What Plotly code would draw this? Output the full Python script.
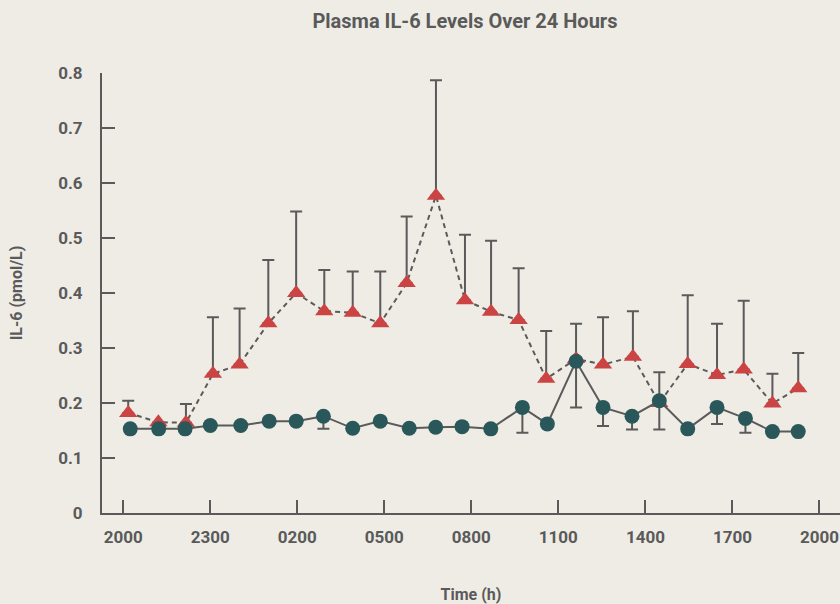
import plotly.graph_objects as go

# Time in hours after 20:00
red_t = [0.17, 1.21, 2.16, 3.09, 4.01, 5.0, 5.96, 6.93, 7.91, 8.86, 9.77, 10.78, 11.78,
         12.68, 13.63, 14.58, 15.61, 16.54, 17.57, 18.48, 19.46, 20.47, 21.39, 22.38, 23.27]
red_y = [0.182, 0.165, 0.164, 0.253, 0.27, 0.345, 0.40, 0.367, 0.364, 0.345, 0.418, 0.577, 0.387,
         0.366, 0.351, 0.244, 0.28, 0.27, 0.284, 0.20, 0.271, 0.251, 0.261, 0.199, 0.227]
red_err = [0.022, 0.0, 0.034, 0.103, 0.102, 0.115, 0.148, 0.075, 0.075, 0.094, 0.121, 0.21, 0.119,
           0.129, 0.094, 0.087, 0.064, 0.086, 0.083, 0.056, 0.125, 0.093, 0.125, 0.054, 0.064]

green_t = [0.24, 1.22, 2.13, 3.0, 4.05, 5.03, 5.96, 6.9, 7.91, 8.86, 9.86, 10.77, 11.68,
           12.67, 13.76, 14.62, 15.61, 16.54, 17.54, 18.48, 19.46, 20.47, 21.45, 22.38, 23.27]
green_y = [0.153, 0.153, 0.153, 0.159, 0.159, 0.167, 0.167, 0.176, 0.154, 0.167, 0.154, 0.156, 0.157,
           0.153, 0.192, 0.162, 0.276, 0.192, 0.176, 0.204, 0.153, 0.192, 0.172, 0.148, 0.148]
green_err = [0, 0, 0, 0, 0, 0, 0, 0.023, 0, 0, 0, 0, 0,
             0, 0.046, 0, 0.084, 0.034, 0.024, 0.052, 0, 0.030, 0.026, 0, 0]

tick_hours = [0, 3, 6, 9, 12, 15, 18, 21, 24]
tick_labels = ["2000", "2300", "0200", "0500", "0800", "1100", "1400", "1700", "2000"]
y_ticks = [0, 0.1, 0.2, 0.3, 0.4, 0.5, 0.6, 0.7, 0.8]
y_labels = ["0", "0.1", "0.2", "0.3", "0.4", "0.5", "0.6", "0.7", "0.8"]

GRAY = "#5a5a5a"
BG = "#efece6"
RED = "#cc4343"
TEAL = "#2a5759"
FONT = "Roboto"

fig = go.Figure()
fig.add_trace(go.Scatter(
    x=red_t, y=red_y, mode="lines+markers",
    line=dict(color=GRAY, width=2, dash="5px,4px"),
    marker=dict(symbol="triangle-up", size=16, color=RED),
    error_y=dict(type="data", symmetric=False, array=red_err, arrayminus=[0] * len(red_err),
                 color=GRAY, thickness=2, width=6),
    showlegend=False, cliponaxis=False,
))
fig.add_trace(go.Scatter(
    x=green_t, y=green_y, mode="lines+markers",
    line=dict(color=GRAY, width=2),
    marker=dict(symbol="circle", size=15, color=TEAL),
    error_y=dict(type="data", symmetric=False, array=[0] * len(green_err), arrayminus=green_err,
                 color=GRAY, thickness=2, width=6),
    showlegend=False, cliponaxis=False,
))

fig.update_layout(
    width=840, height=604,
    paper_bgcolor=BG, plot_bgcolor=BG,
    margin=dict(l=102, r=0, t=73, b=91),
    font=dict(family=FONT, color=GRAY),
    title=dict(text="<b>Plasma IL-6 Levels Over 24 Hours</b>", x=0.5535, xanchor="center",
               y=0.966, yanchor="middle", font=dict(size=20, color=GRAY, family=FONT)),
    xaxis=dict(
        range=[-0.734, 24.71], tickmode="array", tickvals=tick_hours,
        ticktext=["<b>%s</b>" % t for t in tick_labels],
        ticks="inside", ticklen=13, tickwidth=2, tickcolor=GRAY,
        showline=True, linecolor=GRAY, linewidth=2, showgrid=False, zeroline=False,
        tickfont=dict(size=17, color=GRAY, family=FONT), ticklabelstandoff=8,
        title=dict(text="<b>Time (h)</b>", font=dict(size=16, color=GRAY, family=FONT), standoff=45),
    ),
    yaxis=dict(
        range=[0, 0.8], tickmode="array", tickvals=y_ticks,
        ticktext=["<b>%s</b>" % t for t in y_labels],
        ticks="inside", ticklen=13, tickwidth=2, tickcolor=GRAY,
        showline=True, linecolor=GRAY, linewidth=2, showgrid=False, zeroline=False,
        tickfont=dict(size=17, color=GRAY, family=FONT), ticklabelstandoff=14,
        title=dict(text="<b>IL-6 (pmol/L)</b>", font=dict(size=16, color=GRAY, family=FONT), standoff=32),
    ),
)

fig.write_html("out.html", config={"displayModeBar": False},
               post_script="document.body.style.margin='0px';document.body.style.background='%s';" % BG)
